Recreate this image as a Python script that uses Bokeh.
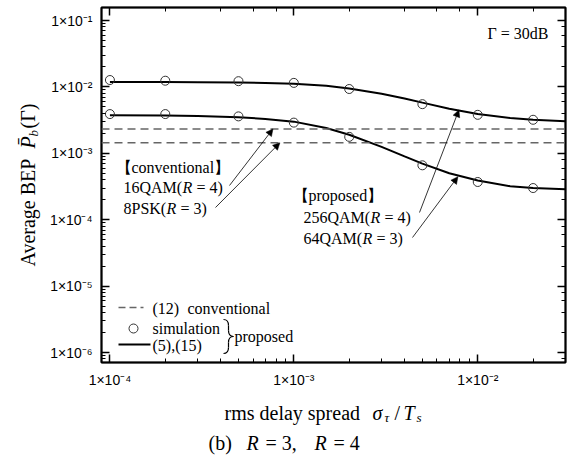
import math

from bokeh.plotting import figure
from bokeh.layouts import row, column
from bokeh.models import (Range1d, LogAxis, CustomJSTickFormatter, Label, Arrow,
                          NormalHead, Span)
from bokeh.embed import file_html
from bokeh.resources import INLINE

# ---- data -------------------------------------------------------------
# normalised rms delay spread sigma_tau / T_s for the analytic curves, eqs. (5),(15)
x_theory = [1e-4, 2e-4, 3e-4, 5e-4, 7e-4, 1e-3, 1.5e-3, 2e-3, 3e-3, 4e-3,
            5e-3, 7e-3, 1e-2, 1.5e-2, 2e-2, 3e-2]
bep_256qam_theory = [1.19e-2, 1.19e-2, 1.18e-2, 1.17e-2, 1.15e-2, 1.12e-2, 1.04e-2,
                     9.5e-3, 7.9e-3, 6.7e-3, 5.8e-3, 4.7e-3, 3.9e-3, 3.4e-3,
                     3.2e-3, 3.05e-3]
bep_64qam_theory = [3.75e-3, 3.72e-3, 3.65e-3, 3.5e-3, 3.3e-3, 3.0e-3, 2.4e-3,
                    1.9e-3, 1.25e-3, 9.0e-4, 7.0e-4, 5.0e-4, 3.9e-4, 3.2e-4,
                    3.0e-4, 2.88e-4]

# simulation points
x_sim = [1e-4, 2e-4, 5e-4, 1e-3, 2e-3, 5e-3, 1e-2, 2e-2]
bep_256qam_sim = [1.27e-2, 1.24e-2, 1.22e-2, 1.15e-2, 9.3e-3, 5.5e-3, 3.8e-3, 3.2e-3]
bep_64qam_sim = [3.9e-3, 3.9e-3, 3.6e-3, 2.9e-3, 1.77e-3, 6.6e-4, 3.7e-4, 3.0e-4]

# conventional schemes, eq. (12): independent of the delay spread
bep_16qam_conv = 2.33e-3
bep_8psk_conv = 1.44e-3

X_RANGE = (9e-5, 3e-2)
Y_RANGE = (7.08e-7, 0.157)

# ---- page geometry (px) -------------------------------------------------
W, H = 579, 455
LEFT_W = 45                    # strip holding the vertical axis title
MAIN_H = 395                   # main chart height; caption strip below it
FL, FR, FT, FB = 101, 565, 7, 362          # frame edges on the page

SERIF = "Liberation Serif"
SANS = "Liberation Sans"

p = figure(width=W - LEFT_W, height=MAIN_H, x_axis_type="log", y_axis_type="log",
           x_range=Range1d(*X_RANGE), y_range=Range1d(*Y_RANGE),
           output_backend="svg", toolbar_location=None,
           min_border_left=FL - LEFT_W, min_border_right=W - FR,
           min_border_top=FT, min_border_bottom=MAIN_H - FB,
           background_fill_color="white", border_fill_color="white")
p.grid.visible = False
p.outline_line_color = "black"
p.outline_line_width = 2

# "1x10^n" labels with superscript exponent
pow_fmt = CustomJSTickFormatter(code="""
const digits = "\u2070\u00b9\u00b2\u00b3\u2074\u2075\u2076\u2077\u2078\u2079";
const e = Math.round(Math.log10(tick));
let s = e < 0 ? "\u207b" : "";
for (const c of String(Math.abs(e))) { s += digits[Number(c)]; }
return "1\u00d710" + s;
""")
blank_fmt = CustomJSTickFormatter(code='return "";')


def style_axis(ax, labels=True):
    ax.axis_line_color = "black"
    ax.axis_line_width = 1.5
    ax.major_tick_in = 8
    ax.major_tick_out = 0
    ax.minor_tick_in = 4
    ax.minor_tick_out = 0
    ax.major_tick_line_color = "black"
    ax.major_tick_line_width = 1.5
    ax.minor_tick_line_color = "black"
    ax.minor_tick_line_width = 1
    ax.major_label_text_font = SANS
    ax.major_label_text_font_size = "14px"
    ax.major_label_text_color = "black"
    if labels:
        ax.formatter = pow_fmt
        ax.major_label_standoff = 9
    else:
        ax.formatter = blank_fmt
        ax.major_label_standoff = 0


style_axis(p.xaxis[0])
style_axis(p.yaxis[0])
top_ax = LogAxis()
right_ax = LogAxis()
style_axis(top_ax, labels=False)
style_axis(right_ax, labels=False)
p.add_layout(top_ax, "above")
p.add_layout(right_ax, "right")

# ---- marks ------------------------------------------------------------
for level in (bep_16qam_conv, bep_8psk_conv):
    p.add_layout(Span(location=level, dimension="width", line_color="#666666",
                      line_width=1.5, line_dash="8 5"))

p.line(x_theory, bep_256qam_theory, line_color="black", line_width=2)
p.line(x_theory, bep_64qam_theory, line_color="black", line_width=2)
for ys in (bep_256qam_sim, bep_64qam_sim):
    p.scatter(x_sim, ys, marker="circle", size=9, fill_color=None,
              line_color="#333333", line_width=1)


# ---- helpers: page pixel positions -> frame screen units / data ---------
def sx(px):
    return px - FL


def sy(py):
    return FB - py


def put(txt, px, py, size=16, style="normal", align="left", angle=0.0):
    p.add_layout(Label(x=sx(px), y=sy(py), x_units="screen", y_units="screen",
                       text=txt, text_font=SERIF, text_font_size=f"{size}px",
                       text_font_style=style, text_align=align,
                       text_baseline="middle", angle=angle, text_color="black"))


def px_to_data(px, py):
    lx0, lx1 = math.log10(X_RANGE[0]), math.log10(X_RANGE[1])
    ly0, ly1 = math.log10(Y_RANGE[0]), math.log10(Y_RANGE[1])
    lx = lx0 + (px - FL) / (FR - FL) * (lx1 - lx0)
    ly = ly0 + (FB - py) / (FB - FT) * (ly1 - ly0)
    return 10 ** lx, 10 ** ly


def pointer(px, py, x_data, y_data):
    p.add_layout(Arrow(x_start=sx(px), y_start=sy(py), start_units="screen",
                       x_end=x_data, y_end=y_data, end_units="data",
                       line_color="black", line_width=0.8,
                       end=NormalHead(size=7, fill_color="black",
                                      line_color="black", line_width=0.5)))


def key_line(px0, px1, py, **style):
    p.add_layout(Arrow(x_start=sx(px0), y_start=sy(py), x_end=sx(px1), y_end=sy(py),
                       start_units="screen", end_units="screen", end=None, **style))


# SNR note
put("\u0393 = 30dB", 548, 33, size=16, align="right")

# conventional annotation
put("\u3010conventional\u3011", 115, 167)
put("16QAM(", 123, 187)
put("R", 182, 187, style="italic")
put("= 4)", 196, 187)
put("8PSK(", 123, 208)
put("R", 166, 208, style="italic")
put("= 3)", 180, 208)
pointer(229, 185, 7.7e-4, bep_16qam_conv)
pointer(215, 207, 8.4e-4, bep_8psk_conv)

# proposed annotation
put("\u3010proposed\u3011", 292, 195)
put("256QAM(", 303, 217)
put("R", 370, 217, style="italic")
put("= 4)", 384, 217)
put("64QAM(", 303, 238)
put("R", 362, 238, style="italic")
put("= 3)", 376, 238)
pointer(419, 212, 7.9e-3, 4.5e-3)
pointer(412, 237, 7.8e-3, 4.45e-4)

# legend
key_line(118, 143, 307, line_color="#666666", line_width=1.5, line_dash="7 4")
put("(12)", 152, 308)
put("conventional", 187, 308)
lx, ly = px_to_data(133, 328)
p.scatter([lx], [ly], marker="circle", size=9, fill_color=None,
          line_color="#333333", line_width=1)
put("simulation", 152, 328)
key_line(118, 150, 344, line_color="black", line_width=2)
put("(5),(15)", 152, 345)
put("proposed", 234, 336)

# curly brace grouping the two "proposed" legend entries
brace_pts = [  # (start, control, end) in page px
    ((223, 319), (228, 319), (228, 325)),
    ((228, 330), (228, 336), (233, 336)),
    ((233, 336), (228, 336), (228, 342)),
    ((228, 347), (228, 353), (223, 353)),
]
bx0, by0, bx1, by1, bcx, bcy = [], [], [], [], [], []
for (s, c, e) in brace_pts:
    xs, ys = px_to_data(*s)
    xc, yc = px_to_data(*c)
    xe, ye = px_to_data(*e)
    bx0.append(xs); by0.append(ys); bcx.append(xc); bcy.append(yc)
    bx1.append(xe); by1.append(ye)
p.quadratic(x0=bx0, y0=by0, x1=bx1, y1=by1, cx=bcx, cy=bcy,
            line_color="black", line_width=1.2)
sx0, sy0 = px_to_data(228, 325)
sx1, sy1 = px_to_data(228, 330)
sx2, sy2 = px_to_data(228, 342)
sx3, sy3 = px_to_data(228, 347)
p.segment(x0=[sx0, sx2], y0=[sy0, sy2], x1=[sx1, sx3], y1=[sy1, sy3],
          line_color="black", line_width=1.2)


# ---- side strips carrying the axis titles and the caption ---------------
def strip(w, h, xr, yr):
    f = figure(width=w, height=h, x_range=Range1d(*xr), y_range=Range1d(*yr),
               output_backend="svg", toolbar_location=None,
               x_axis_location=None, y_axis_location=None,
               min_border=0, outline_line_color=None,
               background_fill_color="white", border_fill_color="white")
    f.grid.visible = False
    return f


# the left strip stands alone; its frame covers the whole strip
left = strip(LEFT_W, H, (0, LEFT_W), (0, H))
# the bottom strip shares the column with the chart, so its frame lines up
# with the chart frame (page x from FL to FR)
bottom = strip(W - LEFT_W, H - MAIN_H, (FL, FR), (0, H - MAIN_H))


def put_left(txt, px, py, size=20, style="normal"):
    left.add_layout(Label(x=px, y=H - py, text=txt, text_font=SERIF,
                          text_font_size=f"{size}px", text_font_style=style,
                          text_align="left", text_baseline="middle",
                          angle=math.pi / 2, text_color="black"))


def put_bottom(txt, px, py, size=20, style="normal"):
    bottom.add_layout(Label(x=px, y=H - py, text=txt, text_font=SERIF,
                            text_font_size=f"{size}px", text_font_style=style,
                            text_align="left", text_baseline="middle",
                            text_color="black"))


# vertical axis title: Average BEP  P_b(Gamma)
put_left("Average BEP", 27, 266)
put_left("P\u0304", 27, 148, style="italic")
put_left("b", 33, 136, size=13, style="italic")
put_left("(\u0393)", 27, 128)

# horizontal axis title: rms delay spread  sigma_tau / T_s
put_bottom("rms delay spread", 224, 412)
put_bottom("\u03c3", 372, 412, style="italic")
put_bottom("\u03c4", 384, 417, size=13, style="italic")
put_bottom("/", 394, 412)
put_bottom("T", 403, 412, style="italic")
put_bottom("s", 416, 417, size=13, style="italic")

# panel caption
put_bottom("(b)", 208, 442)
put_bottom("R", 246, 442, style="italic")
put_bottom("= 3,", 265, 442)
put_bottom("R", 314, 442, style="italic")
put_bottom("= 4", 333, 442)

layout = row(left, column(p, bottom))
open("out.html", "w").write(file_html(layout, INLINE))
